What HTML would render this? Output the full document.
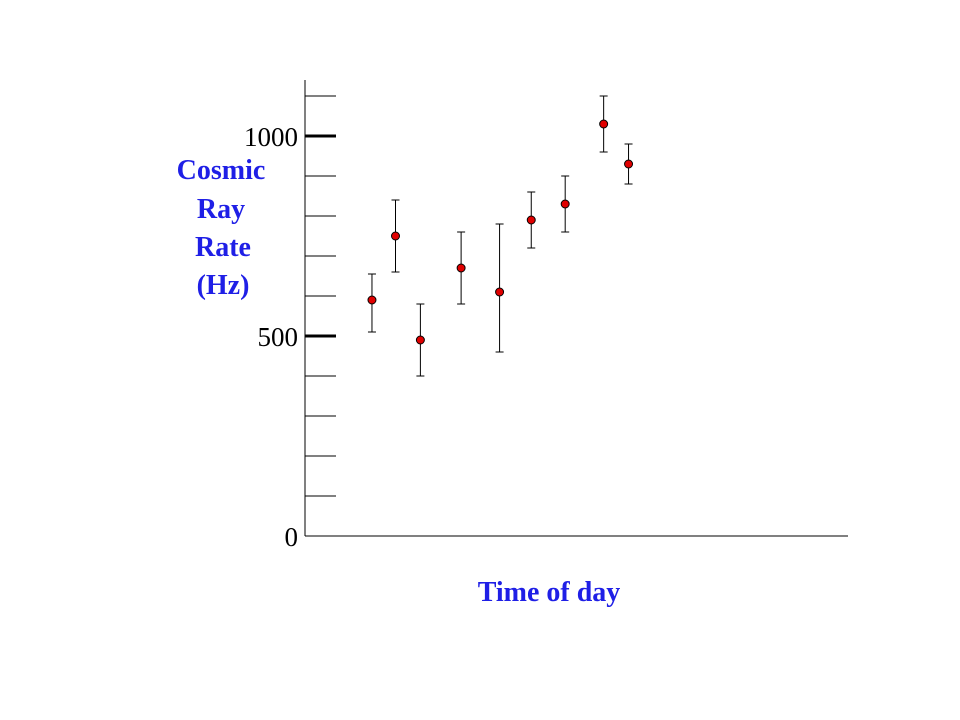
<!DOCTYPE html>
<html><head><meta charset="utf-8"><style>
body{margin:0;background:#fff;width:960px;height:720px;overflow:hidden}
svg{display:block}
text{font-family:"Liberation Serif",serif}
</style></head><body>
<svg id="chart" width="960" height="720">
<line x1="305" y1="80" x2="305" y2="536" stroke="#000" stroke-width="1"/>
<line x1="305" y1="536" x2="848" y2="536" stroke="#000" stroke-width="1"/>
<g id="ticks"></g>
<g id="marks"></g>
<text x="221" y="179" text-anchor="middle" font-size="28" font-weight="bold" fill="#1f1fe6">Cosmic</text>
<text x="221" y="218" text-anchor="middle" font-size="28" font-weight="bold" fill="#1f1fe6">Ray</text>
<text x="223" y="256" text-anchor="middle" font-size="28" font-weight="bold" fill="#1f1fe6">Rate</text>
<text x="223" y="294" text-anchor="middle" font-size="28" font-weight="bold" fill="#1f1fe6">(Hz)</text>
<text x="549" y="601" text-anchor="middle" font-size="28" font-weight="bold" fill="#1f1fe6">Time of day</text>
</svg>
<script>
const times=[2.96,4.0,5.1,6.9,8.6,10.0,11.5,13.2,14.3];
const rates=[590,750,490,670,610,790,830,1030,930];
const errUp=[65,90,90,90,170,70,70,70,50];
const errDown=[80,90,90,90,150,70,70,70,50];
const minorTicks=[100,200,300,400,600,700,800,900,1100];
const majorTicks=[0,500,1000];
const majorLabels=["0","500","1000"];
const NS="http://www.w3.org/2000/svg";
const y=v=>536-v*0.4;
const x=t=>305+t*(543/24);
const tg=document.getElementById('ticks'),mg=document.getElementById('marks');
function mk(tag,attrs,parent){const e=document.createElementNS(NS,tag);for(const k in attrs)e.setAttribute(k,attrs[k]);parent.appendChild(e);return e;}
minorTicks.forEach(v=>{
 const l=mk('line',{x1:305,x2:336,y1:y(v),y2:y(v),stroke:'#000','stroke-width':1},tg);
 
 
});
majorTicks.forEach((v,i)=>{
 if(v>0){const l=mk('line',{x1:305,x2:336,y1:y(v),y2:y(v),stroke:'#000','stroke-width':3},tg);
 
 }
 const t=mk('text',{x:298,y:y(v)+10,'text-anchor':'end','font-size':27},tg);
 t.textContent=majorLabels[i];
 
 
});
times.forEach((t,i)=>{
 const cx=x(t),top=y(rates[i]+errUp[i]),bot=y(rates[i]-errDown[i]);
 const g=mk('g',{},mg);
 
 
 mk('line',{x1:cx,x2:cx,y1:top,y2:bot,stroke:'#000','stroke-width':1},g);
 mk('line',{x1:cx-4,x2:cx+4,y1:top,y2:top,stroke:'#000','stroke-width':1},g);
 mk('line',{x1:cx-4,x2:cx+4,y1:bot,y2:bot,stroke:'#000','stroke-width':1},g);
 mk('circle',{cx:cx,cy:y(rates[i]),r:4,fill:'#e00000',stroke:'#000','stroke-width':1},g);
});
</script>
</body></html>
